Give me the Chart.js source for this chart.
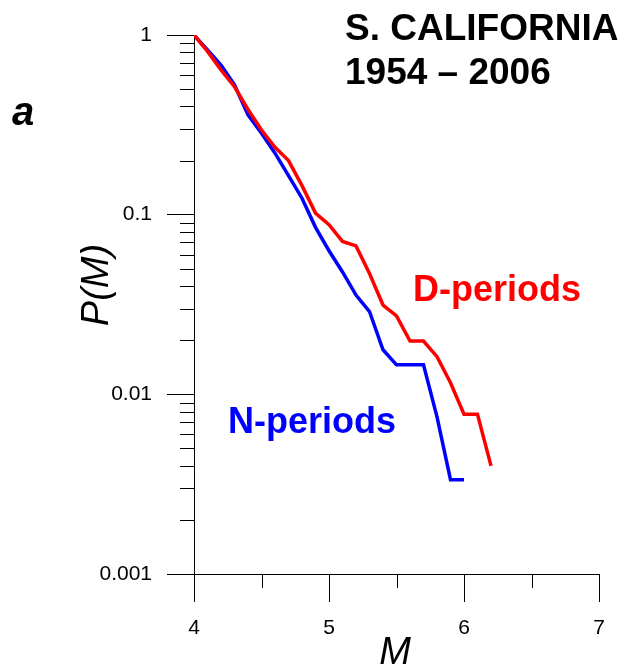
<!DOCTYPE html>
<html>
<head>
<meta charset="utf-8">
<script src="https://cdn.jsdelivr.net/npm/chart.js@4/dist/chart.umd.min.js"></script>
<style>
  html, body { margin: 0; padding: 0; background: #fff; }
  canvas { display: block; }
</style>
</head>
<body>
<canvas id="chart" width="621" height="666"></canvas>
<script>
const FONT = '"Liberation Sans", Arial, sans-serif';

// magnitudes and cumulative probabilities
const magD = [4.0, 4.1, 4.2, 4.3, 4.4, 4.5, 4.6, 4.7, 4.8, 4.9, 5.0, 5.1, 5.2, 5.3, 5.4, 5.5, 5.6, 5.7, 5.8, 5.9, 6.0, 6.1, 6.2];
const probD = [1, 0.81, 0.64, 0.515, 0.385, 0.296, 0.237, 0.200, 0.145, 0.102, 0.088, 0.071, 0.067, 0.047, 0.0314, 0.0273, 0.0198, 0.0198, 0.0162, 0.0116, 0.00775, 0.00775, 0.0040];

const magN = [4.0, 4.1, 4.2, 4.3, 4.4, 4.5, 4.6, 4.7, 4.8, 4.9, 5.0, 5.1, 5.2, 5.3, 5.4, 5.5, 5.6, 5.7, 5.8, 5.9, 6.0];
const probN = [1, 0.825, 0.68, 0.527, 0.359, 0.284, 0.22, 0.165, 0.1235, 0.085, 0.063, 0.048, 0.0357, 0.0289, 0.0177, 0.0146, 0.0146, 0.0146, 0.0075, 0.00335, 0.00335];

const xTicks = [4, 5, 6, 7];
const xMinorTicks = [4.5, 5.5, 6.5];
const yTicks = [0.001, 0.01, 0.1, 1];
const yTickLabels = ['0.001', '0.01', '0.1', '1'];
const yMinorFactors = [2, 3, 4, 5, 6, 7, 8, 9];

// minor ticks, axis titles and the text on the plot
const decor = {
  id: 'decor',
  afterDraw(chart) {
    const { ctx } = chart;
    const x = chart.scales.x;
    const y = chart.scales.y;
    const left = chart.chartArea.left;
    const bottom = chart.chartArea.bottom;
    ctx.save();
    ctx.strokeStyle = '#000';
    ctx.lineWidth = 1;
    ctx.beginPath();
    yTicks.slice(0, -1).forEach(d => {
      yMinorFactors.forEach(f => {
        const py = Math.round(y.getPixelForValue(d * f)) + 0.5;
        ctx.moveTo(left - 14, py);
        ctx.lineTo(left, py);
      });
    });
    xMinorTicks.forEach(v => {
      const px = Math.round(x.getPixelForValue(v)) + 0.5;
      ctx.moveTo(px, bottom);
      ctx.lineTo(px, bottom + 14);
    });
    ctx.stroke();

    ctx.fillStyle = '#000';
    ctx.textAlign = 'left';
    ctx.textBaseline = 'alphabetic';
    ctx.font = 'bold 37px ' + FONT;
    ctx.fillText('S. CALIFORNIA', 345, 40);
    ctx.fillText('1954 \u2013 2006', 345, 84);

    ctx.font = 'italic bold 40px ' + FONT;
    ctx.fillText('a', 12, 125);

    ctx.fillStyle = '#ff0000';
    ctx.font = 'bold 36px ' + FONT;
    ctx.fillText('D-periods', 413, 301);
    ctx.fillStyle = '#0000ff';
    ctx.fillText('N-periods', 228, 433);

    ctx.fillStyle = '#000';
    ctx.font = 'italic 38px ' + FONT;
    ctx.textAlign = 'center';
    ctx.fillText('M', 395, 664);

    ctx.translate(108, 285);
    ctx.rotate(-Math.PI / 2);
    ctx.fillText('P(M)', 0, 0);
    ctx.restore();
  }
};

new Chart(document.getElementById('chart'), {
  type: 'line',
  data: {
    datasets: [
      {
        label: 'D-periods',
        data: magD.map((m, i) => ({ x: m, y: probD[i] })),
        borderColor: '#ff0000',
        borderWidth: 3.5,
        pointRadius: 0,
        tension: 0,
        fill: false,
      },
      {
        label: 'N-periods',
        data: magN.map((m, i) => ({ x: m, y: probN[i] })),
        borderColor: '#0000ff',
        borderWidth: 3.5,
        pointRadius: 0,
        tension: 0,
        fill: false,
      }
    ]
  },
  options: {
    responsive: false,
    animation: false,
    devicePixelRatio: 1,
    layout: { padding: { left: 0, top: 35, right: 22, bottom: 0 } },
    plugins: { legend: { display: false }, tooltip: { enabled: false } },
    scales: {
      x: {
        type: 'linear',
        min: 4,
        max: 7,
        afterBuildTicks: s => { s.ticks = xTicks.map(v => ({ value: v })); },
        afterFit: s => { s.height = 92; },
        grid: { drawOnChartArea: false, tickLength: 28, color: '#000', lineWidth: 1 },
        border: { color: '#000', width: 1 },
        ticks: { font: { family: FONT, size: 21 }, color: '#000', padding: 14, maxRotation: 0, callback: v => String(v) }
      },
      y: {
        type: 'logarithmic',
        min: 0.001,
        max: 1,
        afterBuildTicks: s => { s.ticks = yTicks.map(v => ({ value: v })); },
        afterFit: s => { s.width = 194; },
        grid: { drawOnChartArea: false, tickLength: 27, color: '#000', lineWidth: 1 },
        border: { color: '#000', width: 1 },
        ticks: { font: { family: FONT, size: 21 }, color: '#000', padding: 15, callback: (v, i) => yTickLabels[i] }
      }
    }
  },
  plugins: [decor]
});
</script>
</body>
</html>
